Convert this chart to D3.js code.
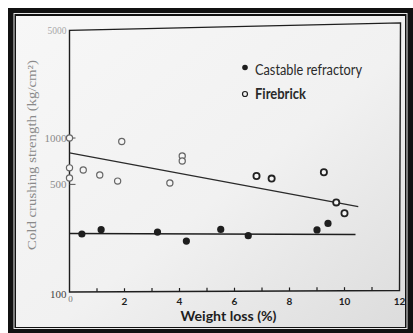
<!DOCTYPE html>
<html>
<head>
<meta charset="utf-8">
<script src="https://cdn.jsdelivr.net/npm/d3@7"></script>
<style>
  html, body { margin: 0; padding: 0; background: #ffffff; }
  svg { display: block; }
</style>
</head>
<body>
<svg id="chart" width="413" height="333"></svg>
<script>
// Firebrick samples (open circles)
const fireX = [0, 0, 0, 0.5, 1.1, 1.75, 1.9, 3.65, 4.1, 4.1, 6.8, 7.35, 9.25, 9.7, 10.0];
const fireY = [1000, 640, 550, 620, 575, 525, 950, 510, 765, 710, 567, 545, 600, 382, 325];

// Castable refractory samples (filled dots)
const castX = [0.45, 1.15, 3.2, 4.25, 5.5, 6.5, 9.0, 9.4];
const castY = [238, 254, 245, 214, 255, 232, 253, 279];

// Least-squares trend lines (end points)
const fireFitX = [0, 10.5];
const fireFitY = [800, 358];
const castFitX = [0, 10.4];
const castFitY = [240, 236];

// Axis ticks
const xTickLabels = [0, 2, 4, 6, 8, 10, 12];
const xMinorTicks = [1, 2, 3, 4, 5, 6, 7, 8, 9, 10, 11];
const yTickLabels = [100, 500, 1000, 5000];
const yInnerTicks = [500, 1000];

const svg = d3.select("#chart");

// Paper shading
const defs = svg.append("defs");
const grad = defs.append("linearGradient").attr("id", "paper")
  .attr("x1", "0").attr("y1", "0").attr("x2", "1").attr("y2", "1");
grad.append("stop").attr("offset", "0").attr("stop-color", "#f7f7f7");
grad.append("stop").attr("offset", "0.55").attr("stop-color", "#f1f1f1");
grad.append("stop").attr("offset", "1").attr("stop-color", "#dcdcdc");

// Photo frame
svg.append("rect").attr("x", 8).attr("y", 8).attr("width", 405).attr("height", 325).attr("fill", "#111");
svg.append("rect").attr("x", 14).attr("y", 13.5).attr("width", 393).attr("height", 315)
  .attr("fill", "none").attr("stroke", "#e8e8e8").attr("stroke-width", 1);
svg.append("rect").attr("x", 16).attr("y", 16).attr("width", 389).attr("height", 311).attr("fill", "url(#paper)");

const x = d3.scaleLinear().domain([0, 12]).range([69.5, 399.5]);
const y = d3.scaleLog().domain([100, 5000]).range([292, 30.4]);

const ink = "#1e1e1e";

// Plot box (top edge slightly skewed as printed)
const x0 = x(0), x12 = x(12), yb = y(100), yt = y(5000);
svg.append("path")
  .attr("d", `M${x0},${yb} L${x0},${yt} L${x12 + 1},${yt - 7.5} L${x12},${yb - 1.5} Z`)
  .attr("fill", "none").attr("stroke", ink).attr("stroke-width", 1.4);

// x minor ticks (inward)
svg.append("g").selectAll("line").data(xMinorTicks).join("line")
  .attr("x1", d => x(d)).attr("x2", d => x(d))
  .attr("y1", d => yb - d * 0.13).attr("y2", d => yb - d * 0.13 - 3.5)
  .attr("stroke", ink).attr("stroke-width", 1.2);

// y inner ticks
svg.append("g").selectAll("line").data(yInnerTicks).join("line")
  .attr("x1", x0).attr("x2", x0 + 6)
  .attr("y1", d => y(d)).attr("y2", d => y(d))
  .attr("stroke", "#555").attr("stroke-width", 1);

// x tick labels
svg.append("g").selectAll("text").data(xTickLabels).join("text")
  .attr("x", d => x(d) + (d === 0 ? 1 : 0))
  .attr("y", d => d === 0 ? 301.5 : 304.5)
  .attr("text-anchor", "middle")
  .attr("font-family", d => d === 0 ? "Liberation Serif" : "Lato")
  .attr("font-weight", d => d === 0 ? 400 : 700)
  .attr("font-size", d => d === 0 ? 9 : 10)
  .attr("fill", d => d === 0 ? "#777" : ink)
  .text(d => d);

// y tick labels
svg.append("g").selectAll("text").data(yTickLabels).join("text")
  .attr("x", x0 - 3)
  .attr("y", d => y(d) + (d === 100 ? 6 : 3.5))
  .attr("text-anchor", "end")
  .attr("font-family", "Liberation Serif")
  .attr("font-size", d => d === 5000 ? 9.5 : 11)
  .attr("fill", d => d === 5000 ? "#a8a8a8" : (d === 100 ? "#444" : "#8a8a8a"))
  .text(d => d);

// Axis titles
svg.append("text")
  .attr("x", (x(0) + x(12)) / 2 - 6).attr("y", 320.5)
  .attr("text-anchor", "middle")
  .attr("font-family", "Lato").attr("font-weight", 700).attr("font-size", 13)
  .attr("textLength", 96).attr("lengthAdjust", "spacingAndGlyphs")
  .attr("fill", ink)
  .text("Weight loss (%)");

svg.append("text")
  .attr("transform", "translate(36,155) rotate(-90)")
  .attr("text-anchor", "middle")
  .attr("font-family", "Liberation Serif").attr("font-size", 13)
  .attr("textLength", 190).attr("lengthAdjust", "spacingAndGlyphs")
  .attr("fill", "#8a8a8a")
  .text("Cold crushing strength (kg/cm²)");

// Trend lines
const line = d3.line().x(d => x(d[0])).y(d => y(d[1]));
svg.append("path").datum(d3.zip(fireFitX, fireFitY)).attr("d", line)
  .attr("fill", "none").attr("stroke", "#2a2a2a").attr("stroke-width", 1.3);
svg.append("path").datum(d3.zip(castFitX, castFitY)).attr("d", line)
  .attr("fill", "none").attr("stroke", ink).attr("stroke-width", 1.5);

// Castable refractory points
svg.append("g").selectAll("circle").data(d3.zip(castX, castY)).join("circle")
  .attr("cx", d => x(d[0])).attr("cy", d => y(d[1])).attr("r", 3.6)
  .attr("fill", ink);

// Firebrick points
svg.append("g").selectAll("circle").data(d3.zip(fireX, fireY)).join("circle")
  .attr("cx", d => x(d[0])).attr("cy", d => y(d[1])).attr("r", 3.1)
  .attr("fill", "#f6f6f6").attr("stroke", d => d[0] > 6 ? "#222" : "#666")
  .attr("stroke-width", d => d[0] > 6 ? 1.8 : 1.2);

// Legend
const legend = svg.append("g").attr("font-family", "Lato").attr("font-size", 14.5).attr("fill", "#2a2a2a");
legend.append("circle").attr("cx", 245).attr("cy", 67.5).attr("r", 2.8).attr("fill", ink);
legend.append("text").attr("x", 255).attr("y", 74.5)
  .attr("textLength", 107).attr("lengthAdjust", "spacingAndGlyphs")
  .text("Castable refractory");
legend.append("circle").attr("cx", 245).attr("cy", 94).attr("r", 2.5)
  .attr("fill", "none").attr("stroke", ink).attr("stroke-width", 1.2);
legend.append("text").attr("x", 255).attr("y", 98.5).attr("font-weight", 700)
  .attr("textLength", 51).attr("lengthAdjust", "spacingAndGlyphs")
  .text("Firebrick");
</script>
</body>
</html>
